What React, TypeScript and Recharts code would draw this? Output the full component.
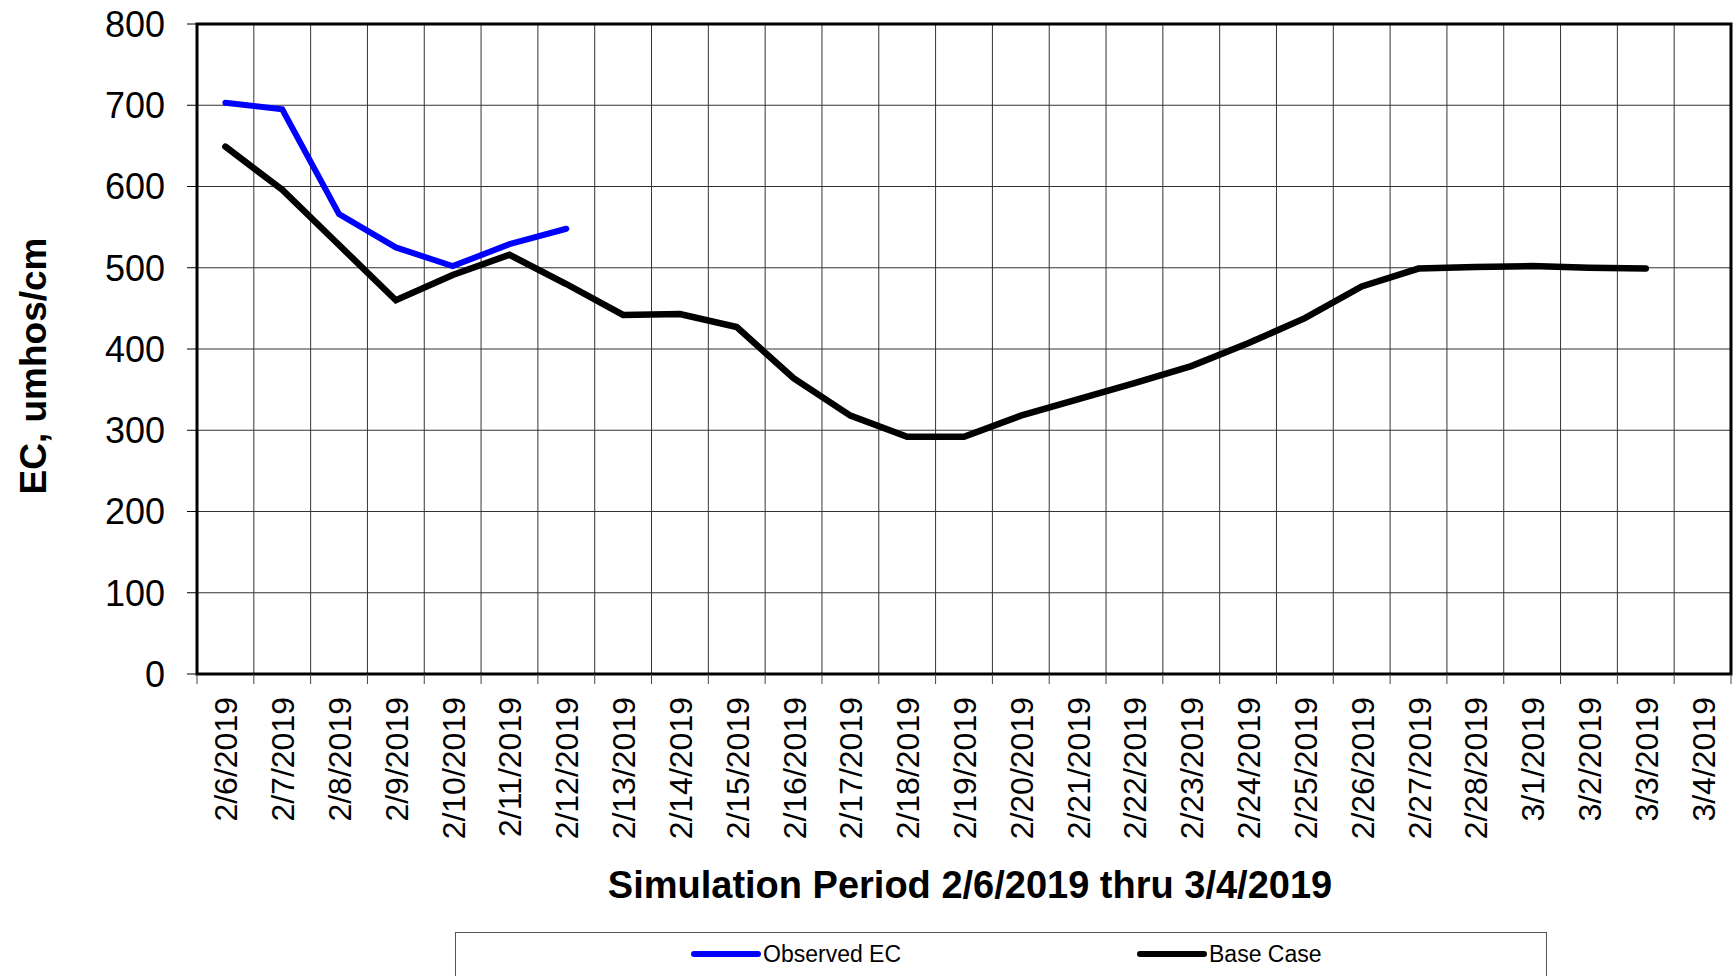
import {
  LineChart,
  Line,
  XAxis,
  YAxis,
  CartesianGrid,
  ReferenceArea,
  Legend,
} from "recharts";

const FONT = '"Liberation Sans", Arial, sans-serif';

const dates = [
  "2/6/2019", "2/7/2019", "2/8/2019", "2/9/2019", "2/10/2019", "2/11/2019",
  "2/12/2019", "2/13/2019", "2/14/2019", "2/15/2019", "2/16/2019", "2/17/2019",
  "2/18/2019", "2/19/2019", "2/20/2019", "2/21/2019", "2/22/2019", "2/23/2019",
  "2/24/2019", "2/25/2019", "2/26/2019", "2/27/2019", "2/28/2019", "3/1/2019",
  "3/2/2019", "3/3/2019", "3/4/2019",
];

const observedEC = [703, 695, 566, 525, 502, 529, 548];

const baseCase = [
  649, 596, 528, 460, 491, 516, 480, 442, 443, 427, 364, 318, 292, 292,
  318, 338, 358, 379, 407, 438, 477, 499, 501, 502, 500, 499,
];

const yTicks = [0, 100, 200, 300, 400, 500, 600, 700, 800];
// day boundaries, used for the vertical grid and the small x ticks
const gridTicks = dates.map((_, i) => i).concat(dates.length);

const data = dates.map((date, i) => ({
  date,
  day: i + 0.5,
  observed: observedEC[i] ?? null,
  base: baseCase[i] ?? null,
}));

const legendLeft: Record<string, number> = { "Observed EC": 234, "Base Case": 680 };

const DateTick = ({ x, y, payload }: any) => (
  <text
    x={x + 1}
    y={y}
    transform={`rotate(-90, ${x + 1}, ${y})`}
    textAnchor="end"
    dominantBaseline="central"
    fontSize={32}
    fontFamily={FONT}
    fill="#000"
  >
    {payload.value}
  </text>
);

const renderLegend = ({ payload }: any) => (
  <div
    style={{
      position: "relative",
      width: 1092,
      height: 60,
      border: "1px solid #555",
      boxSizing: "border-box",
      background: "#fff",
      fontFamily: FONT,
      fontSize: 23,
      color: "#000",
    }}
  >
    {(payload || []).map((item: any) => (
      <div
        key={item.value}
        style={{
          position: "absolute",
          left: legendLeft[item.value] ?? 0,
          top: 8,
          display: "flex",
          alignItems: "center",
          lineHeight: "26px",
        }}
      >
        <svg width={72} height={10}>
          <line x1={4} y1={5} x2={68} y2={5} stroke={item.color} strokeWidth={6} strokeLinecap="round" />
        </svg>
        <span style={{ marginLeft: 1 }}>{item.value}</span>
      </div>
    ))}
  </div>
);

export default function App() {
  return (
    <div style={{ position: "absolute", left: 0, top: 0, background: "#fff" }}>
      <LineChart
        width={1736}
        height={976}
        data={data}
        margin={{ top: 24, right: 5, bottom: 0, left: 0 }}
        style={{ fontFamily: FONT }}
      >
        <CartesianGrid stroke="#333" strokeWidth={1} />
        <XAxis
          xAxisId={0}
          dataKey="day"
          type="number"
          domain={[0, dates.length]}
          ticks={gridTicks}
          tickFormatter={() => ""}
          tickSize={10}
          tickLine={{ stroke: "#444" }}
          axisLine={false}
          height={10}
          allowDataOverflow
        />
        <XAxis
          xAxisId="dates"
          dataKey="date"
          scale="band"
          interval={0}
          tickSize={0}
          tickMargin={13}
          tickLine={false}
          axisLine={false}
          height={292}
          tick={<DateTick />}
          label={{
            content: ({ viewBox }: any) => (
              <text
                x={viewBox.x + viewBox.width / 2 + 6}
                y={viewBox.y + 214}
                textAnchor="middle"
                fontSize={38}
                fontWeight="bold"
                fontFamily={FONT}
                fill="#000"
              >
                Simulation Period 2/6/2019 thru 3/4/2019
              </text>
            ),
          }}
        />
        <YAxis
          domain={[0, 800]}
          ticks={yTicks}
          width={197}
          tickSize={10}
          tickMargin={22}
          tickLine={{ stroke: "#000" }}
          axisLine={false}
          tick={{ fontSize: 36, fill: "#000", fontFamily: FONT }}
          label={{
            content: ({ viewBox }: any) => {
              const cx = 46;
              const cy = viewBox.y + viewBox.height / 2 + 17;
              return (
                <text
                  x={cx}
                  y={cy}
                  transform={`rotate(-90, ${cx}, ${cy})`}
                  textAnchor="middle"
                  fontSize={37}
                  fontWeight="bold"
                  fontFamily={FONT}
                  fill="#000"
                >
                  EC, umhos/cm
                </text>
              );
            },
          }}
        />
        <ReferenceArea
          x1={0}
          x2={dates.length}
          y1={0}
          y2={800}
          fill="none"
          stroke="#000"
          strokeWidth={3}
          ifOverflow="visible"
        />
        <Line
          xAxisId="dates"
          type="linear"
          dataKey="observed"
          name="Observed EC"
          stroke="#0000ff"
          strokeWidth={6}
          strokeLinecap="round"
          dot={false}
          activeDot={false}
          isAnimationActive={false}
        />
        <Line
          xAxisId="dates"
          type="linear"
          dataKey="base"
          name="Base Case"
          stroke="#000"
          strokeWidth={6.5}
          strokeLinecap="round"
          dot={false}
          activeDot={false}
          isAnimationActive={false}
        />
        <Legend
          layout="horizontal"
          verticalAlign="middle"
          align="center"
          content={renderLegend}
          wrapperStyle={{ left: 455, top: 932, width: 1092, height: 60 }}
        />
      </LineChart>
    </div>
  );
}
